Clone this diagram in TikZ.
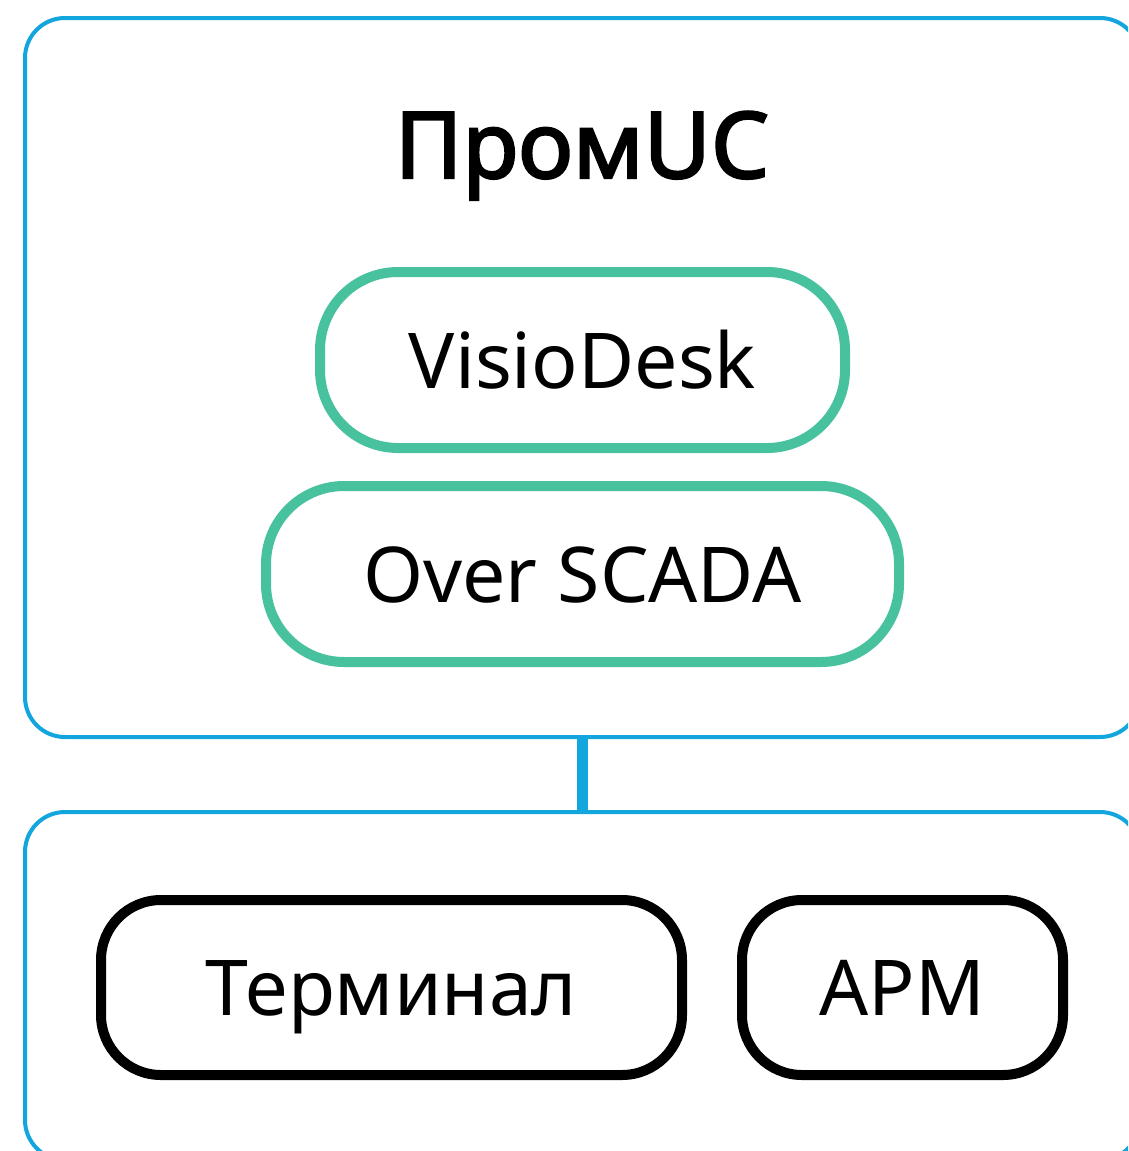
\documentclass[tikz,border=0pt]{standalone}
\usepackage{fontspec}
\setmainfont{Noto Sans}
\newfontfamily\titlefont{Noto Sans}[FakeBold = 2.5]
\definecolor{frameblue}{RGB}{18,165,222}
\definecolor{modgreen}{RGB}{72,194,158}
\tikzset{
  frame/.style = {draw = frameblue, line width = 4pt, rounded corners = 40pt},
  label/.style = {font = \fontsize{77}{90}\selectfont, text height = 58pt, text depth = 2pt},
  module/.style = {label, draw = modgreen, line width = 10pt, rounded corners = 78pt, minimum height = 176pt},
  client/.style = {label, draw = black, line width = 10pt, rounded corners = 60pt, minimum height = 175pt}
}

\begin{document}
\begin{tikzpicture}[x = 1pt, y = -1pt]
\useasboundingbox (0,0) rectangle (1128,1151);
\clip (0,0) rectangle (1128,1151);

% outer frames
\draw [frame] (25,18) rectangle (1140,737);
\draw [frame] (25,812) rectangle (1140,1160);
\coordinate (topbottom) at (582,737);
\coordinate (bottomtop) at (582,812);
\draw [draw = frameblue, line width = 11pt] (topbottom) -- (bottomtop);

\node [anchor = base] (title) at (582,178) {\fontsize{92}{100}\titlefont ПромUC};

% modules
\node [module, minimum width = 525pt] (visio) at (582.5,360) {VisioDesk};
\node [module, minimum width = 633pt] (scada) at (582.5,574) {Over SCADA};

% clients
\node [client, minimum width = 581pt] (term) at (391.5,987.5) {Терминал};
\node [client, minimum width = 321pt] (arm) at (902.5,987.5) {АРМ};

\end{tikzpicture}
\end{document}
